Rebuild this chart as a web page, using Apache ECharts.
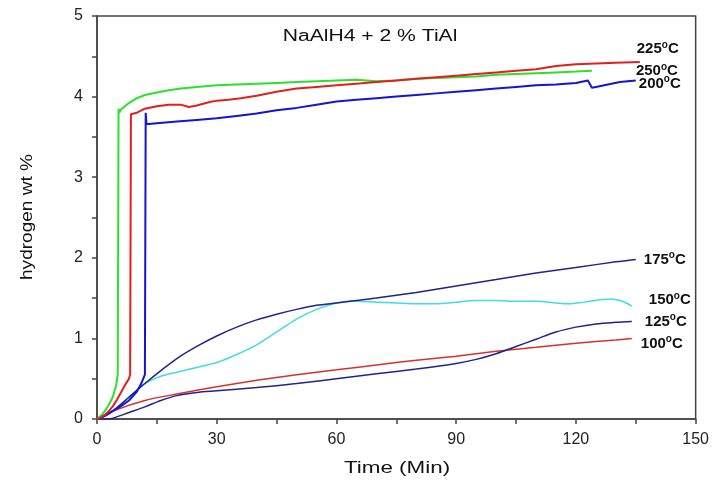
<!DOCTYPE html>
<html>
<head>
<meta charset="utf-8">
<script src="https://cdn.jsdelivr.net/npm/echarts@6/dist/echarts.min.js"></script>
<style>html,body{margin:0;padding:0;background:#fff;}#c{width:712px;height:484px;}</style>
</head>
<body>
<div id="c"></div>
<script>
var xTicks = [0, 30, 60, 90, 120, 150];
var yTicks = [0, 1, 2, 3, 4, 5];
var chartTitle = 'NaAlH4 + 2 % TiAl';
var xName = 'Time (Min)';
var yName = 'hydrogen wt %';

var t250 = [0, 1, 2, 3, 4, 4.8, 5.2, 5.4, 5.6, 6, 7, 8, 10, 12, 15, 18, 21, 25, 30, 35, 40, 45, 50, 55, 60, 65, 70, 75, 80, 85, 90, 95, 100, 105, 110, 115, 120, 124];
var h250 = [0, 0.04, 0.1, 0.18, 0.28, 0.42, 0.55, 3.85, 3.8, 3.84, 3.88, 3.92, 3.98, 4.02, 4.05, 4.08, 4.1, 4.12, 4.14, 4.15, 4.16, 4.17, 4.18, 4.19, 4.2, 4.21, 4.19, 4.2, 4.22, 4.23, 4.24, 4.25, 4.27, 4.28, 4.29, 4.3, 4.31, 4.32];

var t225 = [0, 1, 2, 3, 4, 5, 6, 7, 8, 8.3, 8.5, 9, 10, 12, 15, 18, 21, 23, 25, 28, 30, 33, 36, 40, 45, 50, 55, 60, 65, 70, 75, 80, 85, 90, 95, 100, 105, 110, 115, 120, 125, 130, 136];
var h225 = [0, 0.02, 0.05, 0.1, 0.16, 0.24, 0.33, 0.42, 0.5, 0.55, 3.78, 3.76, 3.8, 3.85, 3.88, 3.9, 3.9, 3.87, 3.89, 3.93, 3.95, 3.96, 3.98, 4.01, 4.06, 4.1, 4.12, 4.14, 4.16, 4.18, 4.2, 4.22, 4.24, 4.26, 4.28, 4.3, 4.32, 4.34, 4.38, 4.4, 4.41, 4.42, 4.43];

var t200 = [0, 2, 4, 6, 8, 10, 11, 12, 12.2, 12.4, 12.6, 13, 15, 20, 25, 30, 35, 40, 45, 50, 55, 60, 65, 70, 75, 80, 85, 90, 95, 100, 105, 110, 115, 120, 123, 123.5, 124, 125, 128, 131, 135];
var h200 = [0, 0.04, 0.1, 0.16, 0.23, 0.34, 0.43, 0.55, 3.8, 3.66, 3.66, 3.66, 3.67, 3.69, 3.71, 3.73, 3.76, 3.79, 3.83, 3.86, 3.9, 3.94, 3.96, 3.98, 4.0, 4.02, 4.04, 4.06, 4.08, 4.1, 4.12, 4.14, 4.15, 4.17, 4.2, 4.21, 4.11, 4.12, 4.15, 4.18, 4.2];

var t175 = [0, 2, 4, 8, 12, 16, 20, 25, 30, 35, 40, 45, 50, 55, 60, 65, 70, 80, 90, 100, 110, 120, 130, 135];
var h175 = [0, 0.04, 0.1, 0.27, 0.44, 0.6, 0.75, 0.9, 1.03, 1.14, 1.23, 1.3, 1.36, 1.41, 1.44, 1.47, 1.5, 1.57, 1.65, 1.73, 1.81, 1.88, 1.95, 1.98];

var t150 = [0, 2, 4, 8, 12, 16, 20, 25, 30, 35, 40, 45, 50, 55, 60, 63, 65, 70, 75, 80, 85, 90, 95, 100, 105, 110, 115, 118, 122, 126, 129, 131, 133, 134];
var h150 = [0, 0.04, 0.1, 0.27, 0.44, 0.53, 0.58, 0.64, 0.7, 0.8, 0.92, 1.08, 1.24, 1.36, 1.44, 1.46, 1.46, 1.45, 1.44, 1.43, 1.43, 1.45, 1.47, 1.47, 1.46, 1.46, 1.44, 1.43, 1.45, 1.48, 1.49, 1.47, 1.43, 1.4];

var t125 = [0, 3, 4, 8, 12, 16, 20, 25, 30, 40, 50, 60, 70, 80, 90, 95, 100, 105, 110, 115, 120, 125, 130, 134];
var h125 = [0, 0, 0.01, 0.08, 0.15, 0.23, 0.29, 0.33, 0.35, 0.39, 0.44, 0.5, 0.56, 0.62, 0.69, 0.74, 0.81, 0.9, 0.99, 1.08, 1.14, 1.18, 1.2, 1.21];

var t100 = [0, 4, 12, 20, 30, 40, 50, 60, 70, 80, 90, 100, 110, 120, 130, 134];
var h100 = [0, 0.1, 0.23, 0.31, 0.4, 0.48, 0.55, 0.61, 0.67, 0.73, 0.78, 0.84, 0.89, 0.94, 0.98, 1.0];

var seriesNames = ['250', '225', '200', '175', '150', '125', '100'];

function pairs(t, h) { return t.map(function (v, i) { return [v, h[i]]; }); }

var FF = 'Liberation Sans, Arial, sans-serif';
var LF = 'Arial';
var rich = {
  a: { fontFamily: LF, fontWeight: 700, fontSize: 15, color: '#111' },
  b: { fontFamily: LF, fontWeight: 700, fontSize: 10, color: '#111', verticalAlign: 'top', padding: [0, 0, 8, 0] }
};
function endLbl(name, off) {
  return { show: true, distance: 0, offset: off, fontFamily: LF, fontWeight: 700, formatter: '{a|' + name + '}{b|o}{a|C}', rich: rich };
}
function mk(name, t, h, color, width, smooth, off) {
  return {
    type: 'line', name: name, data: pairs(t, h), showSymbol: false, symbol: 'none',
    smooth: smooth, lineStyle: { color: color, width: width }, itemStyle: { color: color },
    endLabel: endLbl(name, off), z: 3, animation: false
  };
}

var axisCommon = {
  axisLine: { show: true, lineStyle: { color: '#444', width: 1.5 } },
  axisTick: { show: true, length: 5, lineStyle: { color: '#444', width: 1.5 } },
  minorTick: { show: true, splitNumber: 2, length: 5, lineStyle: { color: '#444', width: 1.5 } },
  splitLine: { show: false }
};

var chart = echarts.init(document.getElementById('c'));
chart.setOption({
  animation: false,
  backgroundColor: '#fff',
  graphic: [
    { type: 'text', x: 370, y: 37, scaleX: 1.32,
      style: { text: chartTitle, fontFamily: FF, fontSize: 16, fill: '#111', align: 'center', verticalAlign: 'middle' } },
    { type: 'text', x: 397, y: 469, scaleX: 1.4,
      style: { text: xName, fontFamily: FF, fontSize: 16, fill: '#111', align: 'center', verticalAlign: 'middle' } },
    { type: 'text', x: 27, y: 217, rotation: Math.PI / 2, scaleX: 1.12,
      style: { text: yName, fontFamily: FF, fontSize: 17, fill: '#111', align: 'center', verticalAlign: 'middle' } }
  ],
  grid: { left: 97, right: 16, top: 16, bottom: 65, show: true, borderColor: '#444', borderWidth: 1.5, backgroundColor: 'transparent' },
  xAxis: Object.assign({
    type: 'value', min: xTicks[0], max: xTicks[xTicks.length - 1], interval: 30,
    axisLabel: { fontFamily: FF, fontSize: 16, color: '#222', margin: 13 }
  }, axisCommon),
  yAxis: Object.assign({
    type: 'value', min: yTicks[0], max: yTicks[yTicks.length - 1], interval: 1,
    axisLabel: { fontFamily: FF, fontSize: 16, color: '#222', margin: 14 }
  }, axisCommon),
  series: [
    mk(seriesNames[6], t100, h100, '#d83030', 1.5, 0.3, [9, 5]),
    mk(seriesNames[5], t125, h125, '#22228e', 1.5, 0.3, [13, 0]),
    mk(seriesNames[4], t150, h150, '#40dede', 1.5, 0.3, [17, -6]),
    mk(seriesNames[3], t175, h175, '#22228e', 1.5, 0.3, [8, 0]),
    mk(seriesNames[2], t200, h200, '#1414d2', 2, false, [3, 3]),
    mk(seriesNames[0], t250, h250, '#2ee02e', 2, false, [44, 0]),
    mk(seriesNames[1], t225, h225, '#e41e1e', 2, false, [-3, -13])
  ]
});
</script>
</body>
</html>
